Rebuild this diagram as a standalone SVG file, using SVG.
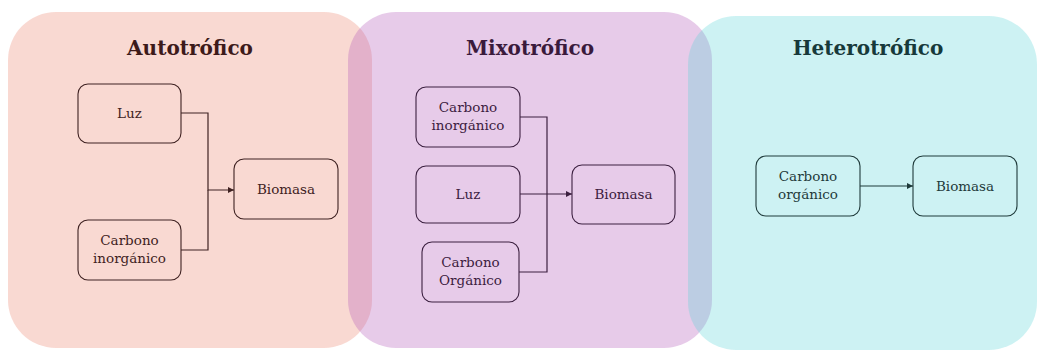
<svg xmlns="http://www.w3.org/2000/svg" width="1038" height="352" viewBox="0 0 1038 352">
  <style>
    .title { font-family: "DejaVu Serif", "Liberation Serif", serif; font-weight: bold; font-size: 20px; text-anchor: middle; }
    .lbl { font-family: "DejaVu Serif", "Liberation Serif", serif; font-size: 13.5px; text-anchor: middle; }
    .box { fill: none; stroke-width: 1.1; }
    .conn { fill: none; stroke-width: 1.2; }
    .auto { stroke: #3f2222; }
    .mixo { stroke: #3c2040; }
    .hetero { stroke: #1f3a3a; }
  </style>
  <defs>
    <marker id="arrA" markerUnits="userSpaceOnUse" markerWidth="7" markerHeight="6" refX="6" refY="3" orient="auto">
      <path d="M0,0 L6,3 L0,6 Z" fill="#3f2222"/>
    </marker>
    <marker id="arrM" markerUnits="userSpaceOnUse" markerWidth="7" markerHeight="6" refX="6" refY="3" orient="auto">
      <path d="M0,0 L6,3 L0,6 Z" fill="#3c2040"/>
    </marker>
    <marker id="arrH" markerUnits="userSpaceOnUse" markerWidth="7" markerHeight="6" refX="6" refY="3" orient="auto">
      <path d="M0,0 L6,3 L0,6 Z" fill="#1f3a3a"/>
    </marker>
  </defs>
  <rect width="1038" height="352" fill="#ffffff"/>

  <!-- panels -->
  <g id="panel-autotrofico">
    <rect x="8" y="12" width="364" height="336" rx="48" fill="rgb(235,128,105)" fill-opacity="0.3"/>
    <text class="title" x="190" y="55" fill="#3d1a1a">Autotrófico</text>
  </g>
  <g id="panel-mixotrofico">
    <rect x="348" y="12" width="364" height="336" rx="48" fill="rgb(178,88,185)" fill-opacity="0.31"/>
    <text class="title" x="530" y="55" fill="#3a1a3c">Mixotrófico</text>
  </g>
  <g id="panel-heterotrofico">
    <rect x="688" y="16" width="349" height="334" rx="48" fill="rgb(88,212,215)" fill-opacity="0.3"/>
    <text class="title" x="868" y="55" fill="#17393a">Heterotrófico</text>
  </g>

  <!-- Autotrófico nodes -->
  <g id="a-luz">
    <rect class="box auto" x="78" y="84" width="103" height="59" rx="10"/>
    <text class="lbl" x="129.5" y="118" fill="#3f2222">Luz</text>
  </g>
  <g id="a-carbono-inorganico">
    <rect class="box auto" x="78" y="220" width="103" height="60" rx="10"/>
    <text class="lbl" x="129.5" y="245" fill="#3f2222">Carbono</text>
    <text class="lbl" x="129.5" y="263" fill="#3f2222">inorgánico</text>
  </g>
  <g id="a-biomasa">
    <rect class="box auto" x="234" y="159" width="104" height="60" rx="10"/>
    <text class="lbl" x="286" y="194" fill="#3f2222">Biomasa</text>
  </g>

  <!-- Mixotrófico nodes -->
  <g id="m-carbono-inorganico">
    <rect class="box mixo" x="416" y="87" width="104" height="60" rx="10"/>
    <text class="lbl" x="468" y="112" fill="#3c2040">Carbono</text>
    <text class="lbl" x="468" y="130" fill="#3c2040">inorgánico</text>
  </g>
  <g id="m-luz">
    <rect class="box mixo" x="416" y="166" width="104" height="57" rx="10"/>
    <text class="lbl" x="468" y="199" fill="#3c2040">Luz</text>
  </g>
  <g id="m-carbono-organico">
    <rect class="box mixo" x="422" y="242" width="97" height="60" rx="10"/>
    <text class="lbl" x="470.5" y="267" fill="#3c2040">Carbono</text>
    <text class="lbl" x="470.5" y="285" fill="#3c2040">Orgánico</text>
  </g>
  <g id="m-biomasa">
    <rect class="box mixo" x="572" y="165" width="103" height="59" rx="10"/>
    <text class="lbl" x="623.5" y="199" fill="#3c2040">Biomasa</text>
  </g>

  <!-- Heterotrófico nodes -->
  <g id="h-carbono-organico">
    <rect class="box hetero" x="756" y="156" width="104" height="60" rx="10"/>
    <text class="lbl" x="808" y="181" fill="#1f3a3a">Carbono</text>
    <text class="lbl" x="808" y="199" fill="#1f3a3a">orgánico</text>
  </g>
  <g id="h-biomasa">
    <rect class="box hetero" x="913" y="156" width="104" height="60" rx="10"/>
    <text class="lbl" x="965" y="191" fill="#1f3a3a">Biomasa</text>
  </g>

  <!-- connectors -->
  <g id="connectors">
    <path class="conn auto" d="M181,113 H208 V190 H234" marker-end="url(#arrA)"/>
    <path class="conn auto" d="M181,250 H208 V190"/>
    <path class="conn mixo" d="M520,117 H547 V272 H519"/>
    <path class="conn mixo" d="M520,194 H572" stroke-width="1.7" marker-end="url(#arrM)"/>
    <path class="conn hetero" d="M860,186 H913" stroke-width="1.7" marker-end="url(#arrH)"/>
  </g>
</svg>
